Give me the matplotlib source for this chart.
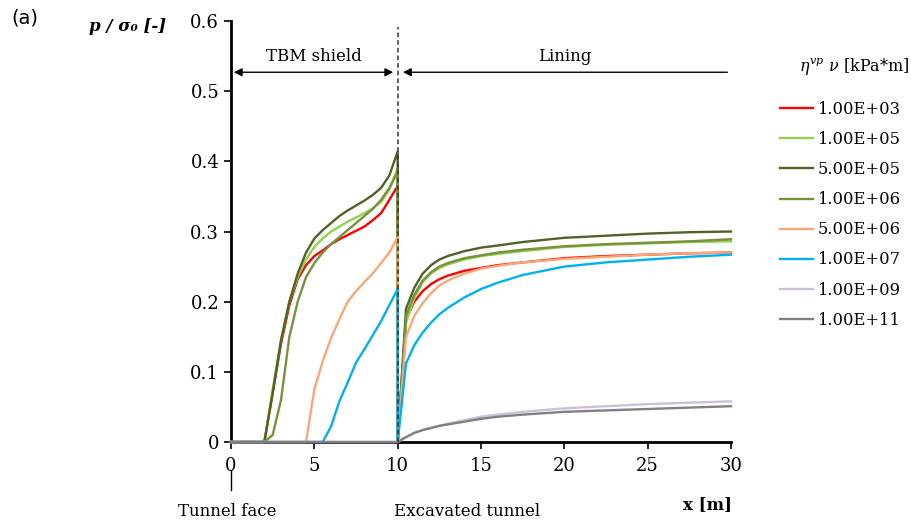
import matplotlib
matplotlib.use("Agg")
import matplotlib.pyplot as plt

plt.rcParams['font.family'] = ['DejaVu Serif']
plt.rcParams['mathtext.fontset'] = 'dejavuserif'

# grid along the shield (0-10 m) and along the lining (10-30 m)
x_shield = [0, 2, 2.5, 3, 3.5, 4, 4.5, 5, 5.5, 6, 6.5, 7, 7.5, 8, 8.5, 9, 9.5, 10]
x_lining = [10, 10.5, 11, 11.5, 12, 12.5, 13, 14, 15, 16, 17.5, 20, 22.5, 25, 27.5, 30]

labels = ["1.00E+03", "1.00E+05", "5.00E+05", "1.00E+06",
          "5.00E+06", "1.00E+07", "1.00E+09", "1.00E+11"]
colors = ["#FF0000", "#92D050", "#4F6228", "#76923C",
          "#F7A878", "#00B0F0", "#CCC0DA", "#808080"]

shield_vals = [
    [0, 0, 0.07, 0.14, 0.195, 0.232, 0.252, 0.265, 0.273, 0.282, 0.289, 0.295, 0.301, 0.307, 0.316, 0.326, 0.345, 0.365],
    [0, 0, 0.075, 0.145, 0.2, 0.235, 0.26, 0.278, 0.29, 0.3, 0.307, 0.314, 0.32, 0.326, 0.333, 0.342, 0.36, 0.39],
    [0, 0, 0.07, 0.145, 0.2, 0.24, 0.27, 0.29, 0.302, 0.312, 0.322, 0.33, 0.337, 0.344, 0.352, 0.362, 0.38, 0.414],
    [0, 0, 0.01, 0.06, 0.15, 0.2, 0.235, 0.255, 0.27, 0.282, 0.292, 0.302, 0.312, 0.322, 0.332, 0.345, 0.362, 0.385],
    [0, 0, 0, 0, 0, 0, 0, 0.075, 0.115, 0.148, 0.175, 0.2, 0.215, 0.228, 0.24, 0.255, 0.27, 0.292],
    [0, 0, 0, 0, 0, 0, 0, 0, 0, 0.022, 0.058, 0.085, 0.113, 0.132, 0.152, 0.172, 0.195, 0.218],
    [0] * 18,
    [0] * 18,
]
lining_vals = [
    [0, 0.175, 0.2, 0.215, 0.225, 0.232, 0.237, 0.244, 0.248, 0.252, 0.256, 0.262, 0.265, 0.267, 0.269, 0.27],
    [0, 0.17, 0.205, 0.228, 0.24, 0.248, 0.253, 0.26, 0.265, 0.268, 0.272, 0.278, 0.281, 0.283, 0.285, 0.286],
    [0, 0.19, 0.22, 0.24, 0.252, 0.26, 0.265, 0.272, 0.277, 0.28, 0.285, 0.291, 0.294, 0.297, 0.299, 0.30],
    [0, 0.18, 0.21, 0.23, 0.242, 0.25, 0.255, 0.262, 0.266, 0.27, 0.274, 0.279, 0.282, 0.284, 0.286, 0.289],
    [0, 0.15, 0.18, 0.198, 0.212, 0.223, 0.23, 0.24, 0.247, 0.251, 0.256, 0.261, 0.264, 0.267, 0.269, 0.27],
    [0, 0.112, 0.138, 0.156, 0.17, 0.182, 0.191, 0.206, 0.218, 0.227, 0.238, 0.25, 0.256, 0.26, 0.264, 0.267],
    [0, 0.007, 0.013, 0.017, 0.02, 0.023, 0.026, 0.031, 0.036, 0.039, 0.043, 0.048, 0.051, 0.054, 0.056, 0.058],
    [0, 0.007, 0.013, 0.017, 0.02, 0.023, 0.025, 0.029, 0.033, 0.036, 0.039, 0.043, 0.045, 0.047, 0.049, 0.051],
]

fig = plt.figure(figsize=(9.11, 5.23), dpi=100)
ax = fig.add_axes([0.2536, 0.1549, 0.5488, 0.8049])

for sv, lv, c, lab in zip(shield_vals, lining_vals, colors, labels):
    ax.plot(x_shield + x_lining, sv + lv, color=c, lw=1.7, label=lab,
            solid_joinstyle='round', zorder=3, clip_on=False)

ax.axvline(10, ymin=0, ymax=0.985, color='#333333', ls=(0, (3, 2)), lw=1.1, zorder=5)

ax.set_xlim(0, 30)
ax.set_ylim(0, 0.6)
ax.set_xticks([0, 5, 10, 15, 20, 25, 30])
ax.set_yticks([0, 0.1, 0.2, 0.3, 0.4, 0.5, 0.6])
ax.set_yticklabels(["0", "0.1", "0.2", "0.3", "0.4", "0.5", "0.6"])
for s in ['top', 'right']:
    ax.spines[s].set_visible(False)
ax.spines['left'].set_linewidth(2)
ax.spines['bottom'].set_linewidth(2)
ax.tick_params(axis='both', labelsize=13, direction='out', length=5, width=1.2, colors='black')
ax.tick_params(axis='x', pad=6)

# shield / lining arrows
ax.annotate("", xy=(0, 0.527), xytext=(9.9, 0.527),
            arrowprops=dict(arrowstyle='<|-|>', color='black', lw=1, mutation_scale=12))
ax.text(5, 0.538, "TBM shield", ha='center', va='bottom', fontsize=12)
ax.annotate("", xy=(10.15, 0.527), xytext=(29.95, 0.527),
            arrowprops=dict(arrowstyle='-|>', color='black', lw=1, mutation_scale=12))
ax.text(20, 0.538, "Lining", ha='center', va='bottom', fontsize=12)

ax.legend(loc='upper left', bbox_to_anchor=(0.856, 0.807), bbox_transform=fig.transFigure,
          frameon=False, fontsize=11.8, handlelength=2.0, handletextpad=0.3,
          labelspacing=0.8, borderpad=0, borderaxespad=0)
fig.text(0.998, 0.872, r"$\eta^{vp}\ \nu$ [kPa*m]", fontsize=11.5, ha='right', va='center')

fig.text(0.012, 0.955, "(a)", fontsize=14, family='DejaVu Sans')
fig.text(0.098, 0.94, "p / σ₀ [-]", fontsize=12, fontweight='bold', style='italic')
fig.text(0.804, 0.027, "x [m]", fontsize=12, fontweight='bold', ha='right')
fig.text(0.195, 0.013, "Tunnel face", fontsize=12)
fig.text(0.432, 0.013, "Excavated tunnel", fontsize=12)
fig.add_artist(plt.Line2D([0.2536, 0.2536], [0.063, 0.10], color='black', lw=1, transform=fig.transFigure))

fig.savefig("out.png", dpi=100)
